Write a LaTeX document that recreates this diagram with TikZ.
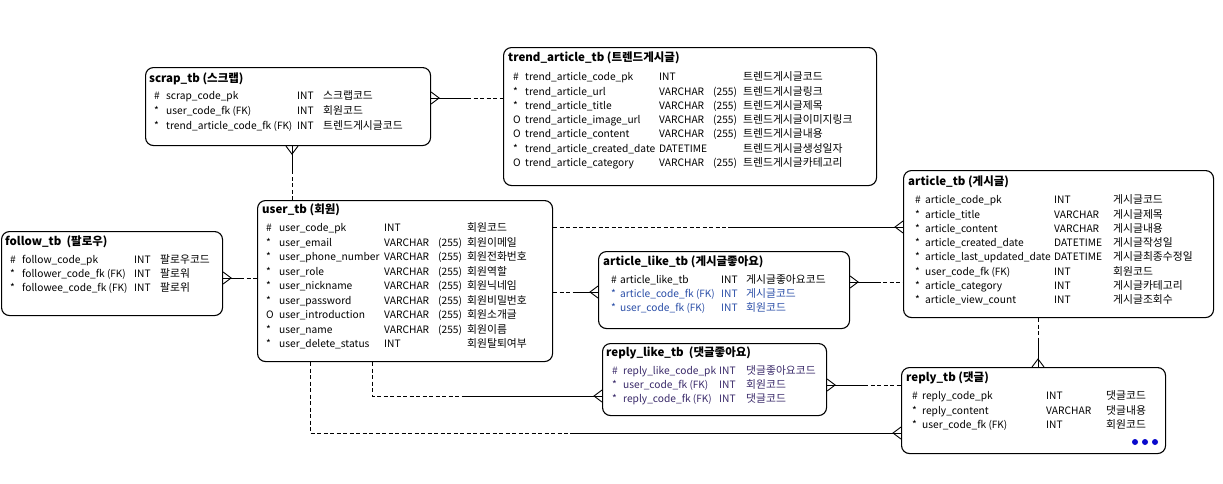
\documentclass[tikz,border=0pt]{standalone}
\usepackage{fontspec}
\setmainfont{Noto Sans CJK KR}
\usetikzlibrary{calc}
\definecolor{fkblue}{HTML}{2B4FA8}
\definecolor{rlpurple}{HTML}{3A2A6A}
\definecolor{dotblue}{HTML}{0A0ACC}
\newcommand\vc{\makebox[54pt][l]{VARCHAR}(255)}
\newcommand\fkm{{\fontsize{10}{12}\selectfont(FK)}}
\newcommand\tbrows[8]{%
  \foreach \ys/\nm/\ty/\kr/\cl [count=\i] in {#8}{%
    \pgfmathsetmacro\yy{#2+#3*(\i-1)}%
    \node[cell,text=\cl] (#1s\i) at (#4,\yy) {\ys};
    \node[cell,text=\cl] (#1n\i) at (#5,\yy) {\nm};
    \node[cell,text=\cl] (#1t\i) at (#6,\yy) {\ty};
    \node[kcell,text=\cl] (#1k\i) at (#7,\yy) {\kr};
  }}
\begin{document}
\catcode`\_=12
\begin{tikzpicture}[x=1pt,y=-1pt,
  tbox/.style={draw, line width=1.1pt, rounded corners=8pt, anchor=north west, inner sep=0pt},
  title/.style={anchor=west, inner sep=0pt, text height=8.5pt, text depth=2.5pt, font=\bfseries\fontsize{11.5}{13}\selectfont},
  cell/.style={anchor=west, inner sep=0pt, text height=8pt, text depth=2.5pt, font=\fontsize{10.2}{13}\selectfont},
  kcell/.style={anchor=west, inner sep=0pt, text height=8pt, text depth=2.5pt, font=\fontsize{10.8}{13}\selectfont},
  rel/.style={line width=0.9pt},
  opt/.style={line width=0.9pt, dash pattern=on 4pt off 2.5pt},
  cf/.style={line width=0.9pt},
  dotn/.style={circle, fill=dotblue, inner sep=0pt, minimum size=6pt},
  crowE/.pic={\draw[cf] (0pt,6pt) -- (8pt,0pt) -- (0pt,-6pt);},
  crowW/.pic={\draw[cf] (0pt,6pt) -- (-8pt,0pt) -- (0pt,-6pt);},
  crowN/.pic={\draw[cf] (-6pt,0pt) -- (0pt,8pt) -- (6pt,0pt);},
  crowS/.pic={\draw[cf] (-6pt,0pt) -- (0pt,-8pt) -- (6pt,0pt);}
]
\fill[white] (0,0) rectangle (1223,483);
\useasboundingbox (0,0) rectangle (1223,483);

% ---------- boxes ----------
\node[tbox, minimum width=285pt, minimum height=78pt] (scrap) at (145,67) {};
\node[tbox, minimum width=373pt, minimum height=138pt] (trend) at (503,47) {};
\node[tbox, minimum width=221pt, minimum height=84pt] (follow) at (1,231) {};
\node[tbox, minimum width=295pt, minimum height=161pt] (user) at (257,200) {};
\node[tbox, minimum width=310pt, minimum height=147pt] (article) at (903,170) {};
\node[tbox, minimum width=251pt, minimum height=77pt] (alike) at (598,251) {};
\node[tbox, minimum width=224pt, minimum height=72pt] (rlike) at (602,343) {};
\node[tbox, minimum width=264pt, minimum height=86pt] (reply) at (901,367) {};

% ---------- titles ----------
\node[title] (scrapH) at (149,79) {scrap_tb (스크랩)};
\node[title] (trendH) at (508,58) {trend_article_tb (트렌드게시글)};
\node[title] (followH) at (5,242) {follow_tb\ \ (팔로우)};
\node[title] (userH) at (262,210) {user_tb (회원)};
\node[title] (articleH) at (908,182) {article_tb (게시글)};
\node[title] (alikeH) at (603,262) {article_like_tb (게시글좋아요)};
\node[title] (rlikeH) at (606,353) {reply_like_tb\ \ (댓글좋아요)};
\node[title] (replyH) at (906,378) {reply_tb (댓글)};

% ---------- rows ----------
\tbrows{sc}{97}{15}{154}{166}{297}{323}{%
  \#/scrap_code_pk/INT/스크랩코드/black,
  */user_code_fk \fkm/INT/회원코드/black,
  */trend_article_code_fk \fkm/INT/트렌드게시글코드/black}
\tbrows{tr}{78}{14.3}{513}{525}{659}{743}{%
  \#/trend_article_code_pk/INT/트렌드게시글코드/black,
  */trend_article_url/\vc/트렌드게시글링크/black,
  */trend_article_title/\vc/트렌드게시글제목/black,
  O/trend_article_image_url/\vc/트렌드게시글이미지링크/black,
  O/trend_article_content/\vc/트렌드게시글내용/black,
  */trend_article_created_date/DATETIME/트렌드게시글생성일자/black,
  O/trend_article_category/\vc/트렌드게시글카테고리/black}
\tbrows{fo}{261}{14}{10}{22}{134}{160}{%
  \#/follow_code_pk/INT/팔로우코드/black,
  */follower_code_fk \fkm/INT/팔로워/black,
  */followee_code_fk \fkm/INT/팔로위/black}
\tbrows{us}{229}{14.5}{266}{279}{384}{467}{%
  \#/user_code_pk/INT/회원코드/black,
  */user_email/\vc/회원이메일/black,
  */user_phone_number/\vc/회원전화번호/black,
  */user_role/\vc/회원역할/black,
  */user_nickname/\vc/회원닉네임/black,
  */user_password/\vc/회원비밀번호/black,
  O/user_introduction/\vc/회원소개글/black,
  */user_name/\vc/회원이름/black,
  */user_delete_status/INT/회원탈퇴여부/black}
\tbrows{ar}{201}{14.3}{915}{925}{1054}{1113}{%
  \#/article_code_pk/INT/게시글코드/black,
  */article_title/VARCHAR/게시글제목/black,
  */article_content/VARCHAR/게시글내용/black,
  */article_created_date/DATETIME/게시글작성일/black,
  */article_last_updated_date/DATETIME/게시글최종수정일/black,
  */user_code_fk \fkm/INT/회원코드/black,
  */article_category/INT/게시글카테고리/black,
  */article_view_count/INT/게시글조회수/black}
\tbrows{al}{281}{14}{611}{620}{721}{746}{%
  \#/article_like_tb/INT/게시글좋아요코드/black,
  */article_code_fk \fkm/INT/게시글코드/fkblue,
  */user_code_fk \fkm/INT/회원코드/fkblue}
\tbrows{rl}{372}{14}{612}{623}{719}{746}{%
  \#/reply_like_code_pk/INT/댓글좋아요코드/rlpurple,
  */user_code_fk \fkm/INT/회원코드/rlpurple,
  */reply_code_fk \fkm/INT/댓글코드/rlpurple}
\tbrows{re}{397}{14.5}{912}{922}{1046}{1106}{%
  \#/reply_code_pk/INT/댓글코드/black,
  */reply_content/VARCHAR/댓글내용/black,
  */user_code_fk \fkm/INT/회원코드/black}
\node[dotn] (rd1) at (1135,442) {};
\node[dotn] (rd2) at (1145,442) {};
\node[dotn] (rd3) at (1155,442) {};

% ---------- helper levels ----------
\coordinate (L98) at (0,98);
\coordinate (L278) at (0,278);
\coordinate (L227) at (0,227);
\coordinate (L292) at (0,292);
\coordinate (L282) at (0,282);
\coordinate (L396) at (0,396);
\coordinate (L433) at (0,433);
\coordinate (L385) at (0,385);
\coordinate (X292) at (292,0);
\coordinate (X372) at (372,0);
\coordinate (X310) at (310,0);
\coordinate (X1038) at (1038,0);

% 1 scrap -- trend
\coordinate (c1a) at (scrap.east |- L98);
\coordinate (c1b) at (trend.west |- L98);
\draw[rel] (c1a) -- ($(c1a)!0.5!(c1b)$);
\draw[opt] ($(c1a)!0.5!(c1b)$) -- (c1b);
\pic at (c1a) {crowE};
% 2 scrap -- user
\coordinate (c2a) at (scrap.south -| X292);
\coordinate (c2b) at (user.north -| X292);
\draw[rel] (c2a) -- ($(c2a)!0.45!(c2b)$);
\draw[opt] ($(c2a)!0.45!(c2b)$) -- (c2b);
\pic at (c2a) {crowS};
% 3 follow -- user
\coordinate (c3a) at (follow.east |- L278);
\coordinate (c3b) at (user.west |- L278);
\draw[rel] (c3a) -- ($(c3a)!0.5!(c3b)$);
\draw[opt] ($(c3a)!0.5!(c3b)$) -- (c3b);
\pic at (c3a) {crowE};
% 4 user -- article
\coordinate (c4a) at (user.east |- L227);
\coordinate (c4b) at (article.west |- L227);
\draw[opt] (c4a) -- ($(c4a)!0.5!(c4b)$);
\draw[rel] ($(c4a)!0.5!(c4b)$) -- (c4b);
\pic at (c4b) {crowW};
% 5 user -- article_like
\coordinate (c5a) at (user.east |- L292);
\coordinate (c5b) at (alike.west |- L292);
\draw[opt] (c5a) -- ($(c5a)!0.5!(c5b)$);
\draw[rel] ($(c5a)!0.5!(c5b)$) -- (c5b);
\pic at (c5b) {crowW};
% 6 article_like -- article
\coordinate (c6a) at (alike.east |- L282);
\coordinate (c6b) at (article.west |- L282);
\draw[rel] (c6a) -- ($(c6a)!0.5!(c6b)$);
\draw[opt] ($(c6a)!0.5!(c6b)$) -- (c6b);
\pic at (c6a) {crowE};
% 7 user -- reply_like
\coordinate (c7a) at (user.south -| X372);
\coordinate (c7b) at (rlike.west |- L396);
\coordinate (c7k) at (c7a |- c7b);
\draw[opt] (c7a) -- (c7k) -- ($(c7k)!0.41!(c7b)$);
\draw[rel] ($(c7k)!0.41!(c7b)$) -- (c7b);
\pic at (c7b) {crowW};
% 8 user -- reply
\coordinate (c8a) at (user.south -| X310);
\coordinate (c8b) at (reply.west |- L433);
\coordinate (c8k) at (c8a |- c8b);
\draw[opt] (c8a) -- (c8k) -- ($(c8k)!0.44!(c8b)$);
\draw[rel] ($(c8k)!0.44!(c8b)$) -- (c8b);
\pic at (c8b) {crowW};
% 9 reply_like -- reply
\coordinate (c9a) at (rlike.east |- L385);
\coordinate (c9b) at (reply.west |- L385);
\draw[rel] (c9a) -- ($(c9a)!0.5!(c9b)$);
\draw[opt] ($(c9a)!0.5!(c9b)$) -- (c9b);
\pic at (c9a) {crowE};
% 10 article -- reply
\coordinate (c10a) at (article.south -| X1038);
\coordinate (c10b) at (reply.north -| X1038);
\draw[opt] (c10a) -- ($(c10a)!0.46!(c10b)$);
\draw[rel] ($(c10a)!0.46!(c10b)$) -- (c10b);
\pic at (c10b) {crowN};
\end{tikzpicture}
\end{document}
